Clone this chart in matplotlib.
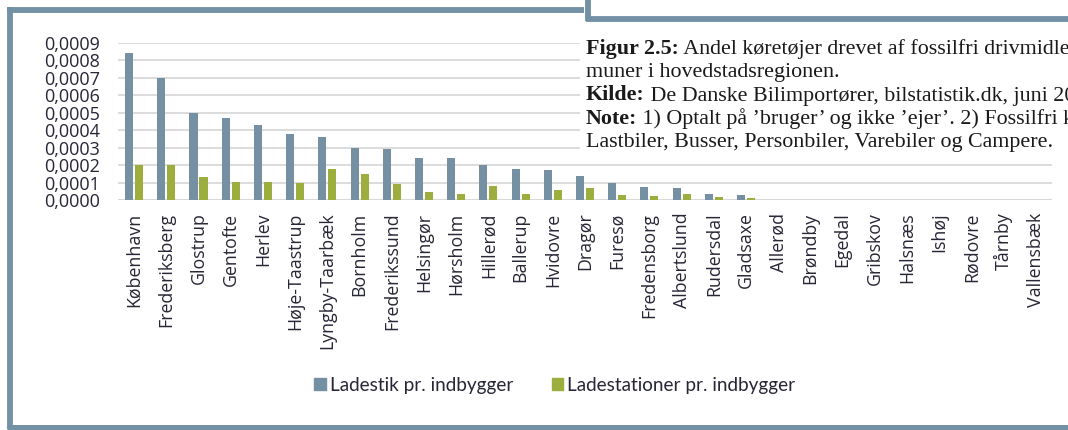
import matplotlib
matplotlib.use("Agg")
import matplotlib.pyplot as plt
import numpy as np
from matplotlib.lines import Line2D
from matplotlib.patches import Rectangle
from matplotlib.ticker import FuncFormatter

# ---------------- data ----------------
kommuner = ["København", "Frederiksberg", "Glostrup", "Gentofte", "Herlev",
            "Høje-Taastrup", "Lyngby-Taarbæk", "Bornholm", "Frederikssund",
            "Helsingør", "Hørsholm", "Hillerød", "Ballerup", "Hvidovre",
            "Dragør", "Furesø", "Fredensborg", "Albertslund", "Rudersdal",
            "Gladsaxe", "Allerød", "Brøndby", "Egedal", "Gribskov", "Halsnæs",
            "Ishøj", "Rødovre", "Tårnby", "Vallensbæk"]
ladestik = [0.00084, 0.00070, 0.00050, 0.00047, 0.00043, 0.00038, 0.00036,
            0.00030, 0.00029, 0.00024, 0.00024, 0.00020, 0.00018, 0.00017,
            0.00014, 0.00010, 0.000076, 0.000067, 0.000034, 0.000027,
            0, 0, 0, 0, 0, 0, 0, 0, 0]
ladestationer = [0.00020, 0.00020, 0.00013, 0.000105, 0.000105, 0.00010,
                 0.00018, 0.00015, 0.00009, 0.000047, 0.000037, 0.00008,
                 0.000037, 0.000056, 0.000067, 0.000027, 0.000023, 0.000034,
                 0.000015, 0.00001, 0, 0, 0, 0, 0, 0, 0, 0, 0]
series_names = ["Ladestik pr. indbygger", "Ladestationer pr. indbygger"]
ytick_values = [0.0000, 0.0001, 0.0002, 0.0003, 0.0004, 0.0005, 0.0006,
                0.0007, 0.0008, 0.0009]

caption_lines = [
    ("Figur 2.5:", " Andel køretøjer drevet af fossilfri drivmidler i kom-"),
    ("", "muner i hovedstadsregionen."),
    ("Kilde:", " De Danske Bilimportører, bilstatistik.dk, juni 2019."),
    ("Note:", " 1) Optalt på ’bruger’ og ikke ’ejer’. 2) Fossilfri køretøjer omfatter"),
    ("", "Lastbiler, Busser, Personbiler, Varebiler og Campere."),
]

# ---------------- style ----------------
W, H = 1068, 430
C_BLUE = "#7590a3"
C_GREEN = "#9cae3e"
C_FRAME = "#7391a4"
C_GRID = "#d9d9d9"
C_TEXT = "#262636"
SANS = ["Open Sans", "DejaVu Sans"]
NARROW = ["Lato", "Open Sans", "DejaVu Sans"]
SERIF = ["Liberation Serif", "DejaVu Serif"]


def fx(px):
    return px / W


def fy(py):
    return 1 - py / H


fig = plt.figure(figsize=(W / 100, H / 100), dpi=100)
fig.patch.set_facecolor("white")

ax = fig.add_axes([fx(118), fy(200), fx(1052) - fx(118), fy(43) - fy(200)])
x = np.arange(len(kommuner))
bw = 0.25
off = 0.155
ax.bar(x - off, ladestik, width=bw, color=C_BLUE, zorder=3, label=series_names[0])
ax.bar(x + off, ladestationer, width=bw, color=C_GREEN, zorder=3, label=series_names[1])

ax.set_xlim(-0.5, len(kommuner) - 0.5)
ax.set_ylim(0, 0.0009)
ax.set_yticks(ytick_values)
ax.yaxis.set_major_formatter(FuncFormatter(lambda v, p: f"{v:.4f}".replace(".", ",")))
ax.yaxis.grid(True, color=C_GRID, linewidth=1.3, zorder=0)
ax.set_axisbelow(True)
for s in ax.spines.values():
    s.set_visible(False)
ax.axhline(0, color=C_GRID, linewidth=1.5, zorder=1)

ax.set_xticks(x)
ax.set_xticklabels(kommuner, rotation=90, family=SANS, fontsize=12.8, color=C_TEXT)
for lab in ax.get_yticklabels():
    lab.set_family(SANS)
    lab.set_fontsize(13)
    lab.set_color(C_TEXT)
ax.tick_params(axis="x", length=0, pad=9)
ax.tick_params(axis="y", length=0, pad=13)

# legend
handles = [Rectangle((0, 0), 1, 1, color=C_BLUE), Rectangle((0, 0), 1, 1, color=C_GREEN)]
fig.legend(handles, series_names, loc="center", bbox_to_anchor=(fx(555), fy(385)),
           ncol=2, frameon=False, prop={"family": NARROW, "size": 13.6},
           handlelength=0.62, handleheight=0.62, handletextpad=0.22,
           columnspacing=2.0, labelcolor=C_TEXT)

# outer frame lines (document decoration)
def hline(x0, x1, y, lw):
    fig.add_artist(Line2D([fx(x0), fx(x1)], [fy(y), fy(y)], color=C_FRAME,
                          linewidth=lw, solid_capstyle="butt", zorder=10))


def vline(x, y0, y1, lw):
    fig.add_artist(Line2D([fx(x), fx(x)], [fy(y0), fy(y1)], color=C_FRAME,
                          linewidth=lw, solid_capstyle="butt", zorder=10))


hline(7, 584, 9.5, 4.2)
vline(9.5, 7, 429, 4.2)
hline(7, 1068, 427, 3.6)
vline(588, 0, 20.5, 4.2)
hline(586, 1068, 18.5, 4.2)

# white caption box covering the grid
fig.add_artist(Rectangle((fx(580), fy(152)), fx(1068) - fx(580), fy(30) - fy(152),
                         transform=fig.transFigure, facecolor="white",
                         edgecolor="none", zorder=5))

fig.canvas.draw()
renderer = fig.canvas.get_renderer()
baselines = [54, 77, 100.5, 124, 147]
for (bold, rest), yb in zip(caption_lines, baselines):
    xpos = fx(586)
    if bold:
        t = fig.text(xpos, fy(yb), bold, family=SERIF, fontsize=15.8,
                     fontweight="bold", color="#1a1a1a", va="baseline",
                     ha="left", zorder=6)
        bb = t.get_window_extent(renderer)
        xpos = fx(bb.x1)
    fig.text(xpos, fy(yb), rest, family=SERIF, fontsize=15.8, color="#1a1a1a",
             va="baseline", ha="left", zorder=6)

fig.savefig("out.png", dpi=100, facecolor="white")
